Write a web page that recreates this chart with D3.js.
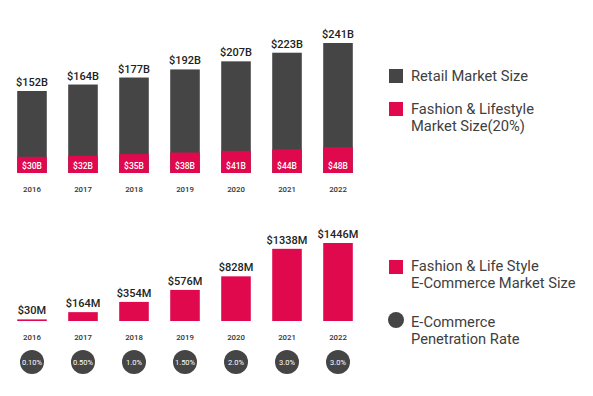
<!DOCTYPE html>
<meta charset="utf-8">
<style>
  body { margin: 0; background: #fff; }
  text { font-family: Roboto, "Noto Sans", sans-serif; }
</style>
<script src="https://d3js.org/d3.v7.min.js"></script>
<svg width="593" height="396"></svg>
<script>
const years = ['2016', '2017', '2018', '2019', '2020', '2021', '2022'];
const retail = [152, 164, 177, 192, 207, 223, 241];
const fashion = [30, 32, 35, 38, 41, 44, 48];
const ecom = [30, 164, 354, 576, 828, 1338, 1446];
const penetration = ['0.10%', '0.50%', '1.0%', '1.50%', '2.0%', '3.0%', '3.0%'];

const grey = '#454545', red = '#e0094e';
const svg = d3.select('svg');

const x = d3.scaleBand().domain(years).range([7, 363]).paddingInner(0.42).paddingOuter(0.2);

// top chart
const yTop = d3.scaleLinear().domain([0, 241]).range([173, 43]);
const topG = svg.append('g');
years.forEach((yr, i) => {
  topG.append('rect').attr('x', x(yr)).attr('width', x.bandwidth())
    .attr('y', yTop(retail[i])).attr('height', yTop(0) - yTop(retail[i])).attr('fill', grey);
  topG.append('rect').attr('x', x(yr)).attr('width', x.bandwidth())
    .attr('y', yTop(fashion[i])).attr('height', yTop(0) - yTop(fashion[i])).attr('fill', red);
  topG.append('text').attr('x', x(yr) + x.bandwidth() / 2).attr('y', yTop(retail[i]) - 5)
    .attr('text-anchor', 'middle').attr('font-size', 11).attr('font-weight', 500).attr('fill', '#222')
    .text(`$${retail[i]}B`);
  topG.append('text').attr('x', x(yr) + x.bandwidth() / 2).attr('y', 169)
    .attr('text-anchor', 'middle').attr('font-size', 8.5).attr('font-weight', 500).attr('fill', '#fff')
    .text(`$${fashion[i]}B`);
  topG.append('text').attr('x', x(yr) + x.bandwidth() / 2).attr('y', 192)
    .attr('text-anchor', 'middle').attr('font-size', 7.8).attr('font-weight', 500).attr('fill', '#333')
    .text(yr);
});

// bottom chart
const yBot = d3.scaleLinear().domain([0, 1446]).range([321, 243]);
const botG = svg.append('g');
years.forEach((yr, i) => {
  botG.append('rect').attr('x', x(yr)).attr('width', x.bandwidth())
    .attr('y', yBot(ecom[i])).attr('height', yBot(0) - yBot(ecom[i])).attr('fill', red);
  botG.append('text').attr('x', x(yr) + x.bandwidth() / 2).attr('y', yBot(ecom[i]) - 5)
    .attr('text-anchor', 'middle').attr('font-size', 11).attr('font-weight', 500).attr('fill', '#222')
    .text(`$${ecom[i]}M`);
  botG.append('text').attr('x', x(yr) + x.bandwidth() / 2).attr('y', 340)
    .attr('text-anchor', 'middle').attr('font-size', 7.8).attr('font-weight', 500).attr('fill', '#333')
    .text(yr);
  botG.append('circle').attr('cx', x(yr) + x.bandwidth() / 2).attr('cy', 362).attr('r', 12).attr('fill', grey);
  botG.append('text').attr('x', x(yr) + x.bandwidth() / 2).attr('y', 364.5)
    .attr('text-anchor', 'middle').attr('font-size', 7.5).attr('fill', '#fff')
    .text(penetration[i]);
});

// legends
const leg = svg.append('g').attr('font-size', 14.7).attr('fill', '#404040');
leg.append('rect').attr('x', 389).attr('y', 69).attr('width', 14).attr('height', 14).attr('fill', grey);
leg.append('text').attr('x', 411).attr('y', 81).text('Retail Market Size');
leg.append('rect').attr('x', 389).attr('y', 102).attr('width', 14).attr('height', 14).attr('fill', red);
leg.append('text').attr('x', 411).attr('y', 114).text('Fashion & Lifestyle');
leg.append('text').attr('x', 411).attr('y', 131).text('Market Size(20%)');

leg.append('rect').attr('x', 389).attr('y', 260).attr('width', 14).attr('height', 14).attr('fill', red);
leg.append('text').attr('x', 411).attr('y', 271).text('Fashion & Life Style');
leg.append('text').attr('x', 411).attr('y', 288).text('E-Commerce Market Size');
leg.append('circle').attr('cx', 396).attr('cy', 320).attr('r', 8).attr('fill', grey);
leg.append('text').attr('x', 411).attr('y', 327).text('E-Commerce');
leg.append('text').attr('x', 411).attr('y', 344).text('Penetration Rate');
</script>
